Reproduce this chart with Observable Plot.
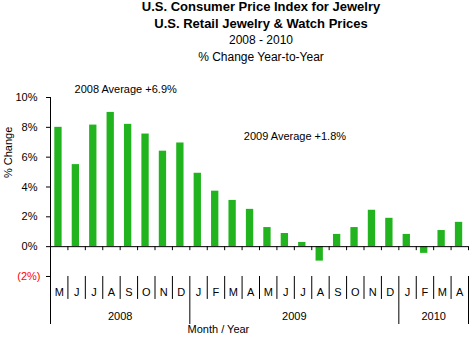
<!DOCTYPE html>
<html>
<head>
<meta charset="utf-8">
<script src="https://cdn.jsdelivr.net/npm/d3@7"></script>
<script src="https://cdn.jsdelivr.net/npm/@observablehq/plot@0.6"></script>
<style>
  html, body { margin: 0; padding: 0; background: #fff; }
  body { width: 472px; height: 340px; overflow: hidden; font-family: Arial, "Liberation Sans", sans-serif; color: #000; }
  #titles { padding-left: 50px; width: 422px; text-align: center; height: 68px; }
  #titles div { line-height: 16.5px; white-space: nowrap; }
  .t1 { font-weight: bold; font-size: 13px; }
  .t2 { font-size: 12px; }
  #chart svg { display: block; }
</style>
</head>
<body>
<div id="titles">
  <div class="t1" style="margin-top:-1px">U.S. Consumer Price Index for Jewelry</div>
  <div class="t1">U.S. Retail Jewelry &amp; Watch Prices</div>
  <div class="t2">2008 - 2010</div>
  <div class="t2">% Change Year-to-Year</div>
</div>
<div id="chart"></div>
<script>
// ---- data ----
const months = ["M","J","J","A","S","O","N","D","J","F","M","A","M","J","J","A","S","O","N","D","J","F","M","A"];
const changes = [8.0, 5.5, 8.15, 9.0, 8.2, 7.55, 6.4, 6.95, 4.92, 3.72, 3.1, 2.5, 1.28, 0.88, 0.28, -0.97, 0.82, 1.28, 2.44, 1.9, 0.82, -0.45, 1.08, 1.63];
const years = ["2008", "2009", "2010"];
const monthsPerYear = [8, 12, 4];
const yTicksPos = [0, 2, 4, 6, 8, 10];
const yTicksNeg = [-2];
const notes = ["2008 Average +6.9%", "2009 Average +1.8%"];

// ---- derived tables ----
const data = months.map((m, i) => ({ i, m, v: changes[i] }));
let acc = 0;
const yearData = years.map((y, k) => { const s = acc; acc += monthsPerYear[k]; return { year: y, start: s, end: acc }; });
const yearBounds = yearData.map(d => d.end);
const monthBounds = d3.range(1, months.length).filter(b => !yearBounds.includes(b));
const yMin = -5.22;
const green = "#22b41e";

const plot = Plot.plot({
  width: 472,
  height: 272,
  marginTop: 30,
  marginBottom: 15,
  marginLeft: 50,
  marginRight: 4,
  style: { fontFamily: "Arial, 'Liberation Sans', sans-serif", fontSize: "11px", color: "#000", background: "#fff" },
  x: { type: "linear", domain: [0, months.length], axis: null },
  y: { domain: [yMin, 10], axis: null },
  marks: [
    Plot.rectY(data, { x1: d => d.i, x2: d => d.i + 1, y1: 0, y2: "v", fill: green, insetLeft: 4.3, insetRight: 5.8 }),
    Plot.ruleY([0], { stroke: "#000" }),
    Plot.ruleX(d3.range(months.length + 1), { x: d => d, y1: 0, y2: -0.27, stroke: "#000" }),
    Plot.ruleX([0], { y1: yMin, y2: 10, stroke: "#000" }),
    Plot.ruleX(monthBounds, { x: d => d, y1: -2, y2: -3.54, stroke: "#000" }),
    Plot.ruleX(yearBounds, { x: d => d, y1: -2, y2: yMin, stroke: "#000" }),
    Plot.axisY(yTicksPos, { tickSize: 4, tickPadding: 9, tickFormat: d => d + "%", label: null, stroke: "#000", fill: "#000" }),
    Plot.axisY(yTicksNeg, { tickSize: 4, tickPadding: 6, tickFormat: d => `(${-d}%)`, label: null, stroke: "#000", fill: "#ff0000" }),
    Plot.text(data, { x: d => d.i + 0.5, y: -3.07, text: "m", fill: "#000" }),
    Plot.text(yearData, { x: d => (d.start + d.end) / 2, y: -4.68, text: "year", fill: "#000" }),
    Plot.text(["Month / Year"], { x: 9.64, frameAnchor: "bottom", dy: 8, text: d => d, fill: "#000" }),
    Plot.text(["% Change"], { y: 4.6, frameAnchor: "left", dx: -42, rotate: -90, text: d => d, fill: "#000" }),
    Plot.text([notes[0]], { x: 1.38, y: 10.52, text: d => d, textAnchor: "start", fill: "#000" }),
    Plot.text([notes[1]], { x: 11.1, y: 7.37, text: d => d, textAnchor: "start", fill: "#000" })
  ]
});
document.getElementById("chart").appendChild(plot);
</script>
</body>
</html>
